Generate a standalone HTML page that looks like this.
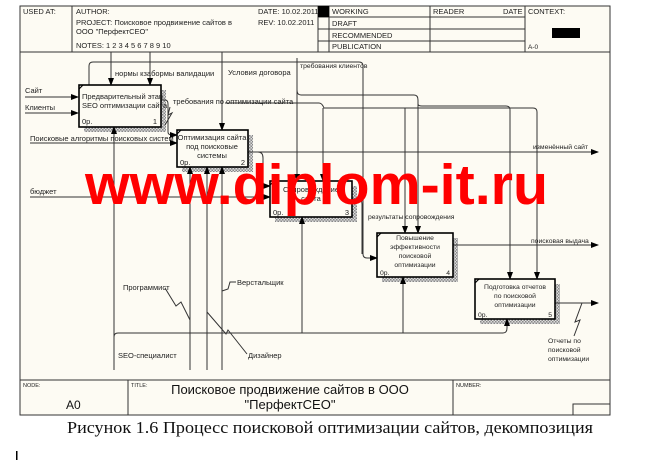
<!DOCTYPE html>
<html><head><meta charset="utf-8"><style>
html,body{margin:0;padding:0;background:#fff;}
svg{display:block;font-family:"Liberation Sans","Noto Sans CJK SC",sans-serif;}
</style></head><body>
<svg width="648" height="460" viewBox="0 0 648 460" xmlns="http://www.w3.org/2000/svg">
<defs>
<pattern id="h" width="3" height="3" patternUnits="userSpaceOnUse"><rect width="3" height="3" fill="#ddd"/><rect width="1.5" height="1.5" fill="#888"/><rect x="1.5" y="1.5" width="1.5" height="1.5" fill="#888"/></pattern>
<marker id="a" markerWidth="8" markerHeight="6" refX="7" refY="3" orient="auto" markerUnits="userSpaceOnUse"><path d="M0,0 L8,3 L0,6 z" fill="#000"/></marker>
</defs>
<rect x="20" y="6" width="590" height="409" fill="#fdfbf3"/>
<!-- header -->
<g stroke="#333" stroke-width="1" fill="none">
<rect x="20" y="6" width="590" height="409"/>
<line x1="20" y1="52" x2="610" y2="52"/>
<line x1="72" y1="6" x2="72" y2="52"/>
<line x1="318" y1="6" x2="318" y2="52"/>
<line x1="329" y1="6" x2="329" y2="52"/>
<line x1="430" y1="6" x2="430" y2="52"/>
<line x1="525" y1="6" x2="525" y2="52"/>
<line x1="318" y1="17" x2="525" y2="17"/>
<line x1="318" y1="29" x2="525" y2="29"/>
<line x1="318" y1="41" x2="525" y2="41"/>
<line x1="20" y1="380" x2="610" y2="380"/>
<line x1="128" y1="380" x2="128" y2="415"/>
<line x1="453" y1="380" x2="453" y2="415"/>
<rect x="573" y="404" width="37" height="11"/>
</g>
<rect x="318" y="6" width="11" height="11" fill="#000"/>
<rect x="552" y="28" width="28" height="10" fill="#000"/>
<g font-size="7.5" fill="#222">
<text x="23" y="14">USED AT:</text>
<text x="76" y="14">AUTHOR:</text>
<text x="76" y="25">PROJECT:  Поисковое продвижение сайтов в</text>
<text x="76" y="34">ООО "ПерфектСЕО"</text>
<text x="76" y="48">NOTES:  1  2  3  4  5  6  7  8  9  10</text>
<text x="258" y="14">DATE:  10.02.2011</text>
<text x="258" y="25">REV:   10.02.2011</text>
<text x="332" y="14">WORKING</text>
<text x="332" y="26">DRAFT</text>
<text x="332" y="38">RECOMMENDED</text>
<text x="332" y="49">PUBLICATION</text>
<text x="433" y="14">READER</text>
<text x="503" y="14">DATE</text>
<text x="528" y="14">CONTEXT:</text>
<text x="528" y="49" font-size="6.5">A-0</text>
<text x="23" y="387" font-size="5.5">NODE:</text>
<text x="131" y="387" font-size="5.5">TITLE:</text>
<text x="456" y="387" font-size="5.5">NUMBER:</text>
</g>
<text x="66" y="409" font-size="12" fill="#111">A0</text>
<text x="290" y="394" font-size="13" text-anchor="middle" fill="#111">Поисковое  продвижение  сайтов в  ООО</text>
<text x="290" y="409" font-size="13" text-anchor="middle" fill="#111">"ПерфектСЕО"</text>

<!-- shadows -->
<rect x="84" y="90" width="82" height="42" fill="url(#h)"/>
<rect x="182" y="135" width="71" height="37" fill="url(#h)"/>
<rect x="275" y="186" width="82" height="36" fill="url(#h)"/>
<rect x="382" y="238" width="76" height="44" fill="url(#h)"/>
<rect x="480" y="284" width="80" height="40" fill="url(#h)"/>

<!-- connectors -->
<g stroke="#333" stroke-width="1" fill="none">
<line x1="25" y1="97" x2="78" y2="97" marker-end="url(#a)"/>
<line x1="25" y1="113" x2="78" y2="113" marker-end="url(#a)"/>
<line x1="30" y1="143" x2="177" y2="143" marker-end="url(#a)"/>
<line x1="30" y1="197" x2="270" y2="197" marker-end="url(#a)"/>
<path d="M160,100 H165 Q168,100 168,104 V132 Q168,135 172,135 H177" marker-end="url(#a)"/>
<path d="M89,85 V66 Q89,62 93,62 H359 Q363,62 363,66 V254 Q363,258 367,258 H377" marker-end="url(#a)"/>
<line x1="111" y1="52" x2="111" y2="85" marker-end="url(#a)"/>
<line x1="150" y1="52" x2="150" y2="85" marker-end="url(#a)"/>
<line x1="222" y1="52" x2="222" y2="130" marker-end="url(#a)"/>
<line x1="297" y1="58" x2="297" y2="181" marker-end="url(#a)"/>
<path d="M297,90 Q297,95 301,95 H414 Q418,95 418,100 V233" marker-end="url(#a)"/>
<path d="M418,104 Q418,106 422,106 H506 Q510,106 510,110 V279" marker-end="url(#a)"/>
<path d="M225,103 H319 Q322,103 324,108 H533 Q537,108 537,112 V279" marker-end="url(#a)"/>
<line x1="323" y1="108" x2="323" y2="181" marker-end="url(#a)"/>
<line x1="405" y1="108" x2="405" y2="233" marker-end="url(#a)"/>
<line x1="248" y1="152" x2="598" y2="152" marker-end="url(#a)"/>
<path d="M258,152 Q263,152 263,158 V182 Q263,186 266,186 H270" marker-end="url(#a)"/>
<path d="M352,199 H358 Q362,199 362,204 V254"/>
<line x1="453" y1="245" x2="598" y2="245" marker-end="url(#a)"/>
<line x1="555" y1="303" x2="598" y2="303" marker-end="url(#a)"/>
<path d="M582,303 L575,322 L580,320 L574,336"/>
<line x1="114" y1="370" x2="114" y2="127" marker-end="url(#a)"/>
<path d="M114,337 Q114,333 118,333 H503 Q507,333 507,328 V319" marker-end="url(#a)"/>
<line x1="302" y1="333" x2="302" y2="217" marker-end="url(#a)"/>
<line x1="403" y1="333" x2="403" y2="277" marker-end="url(#a)"/>
<line x1="190" y1="370" x2="190" y2="167" marker-end="url(#a)"/>
<line x1="207" y1="370" x2="207" y2="167" marker-end="url(#a)"/>
<line x1="222" y1="370" x2="222" y2="167" marker-end="url(#a)"/>
<path d="M165,288 L176,306 L181,302 L190,320"/>
<path d="M207,312 L226,334 L228,330 L247,354"/>
<path d="M236,282 L230,282 L228,289 L222,291"/>
<path d="M170,107 L168,115 L172,113 L165,125"/>
</g>

<!-- boxes -->
<g stroke="#000" stroke-width="1.6" fill="#fdfbf3">
<rect x="79" y="85" width="82" height="42"/>
<rect x="177" y="130" width="71" height="37"/>
<rect x="270" y="181" width="82" height="36"/>
<rect x="377" y="233" width="76" height="44"/>
<rect x="475" y="279" width="80" height="40"/>
</g>
<g stroke="#000" stroke-width="1.2">
<line x1="79" y1="89" x2="83" y2="85"/><line x1="177" y1="134" x2="181" y2="130"/>
<line x1="270" y1="185" x2="274" y2="181"/><line x1="377" y1="237" x2="381" y2="233"/><line x1="475" y1="283" x2="479" y2="279"/>
</g>
<g font-size="7.5" fill="#222">
<text x="82" y="99">Предварительный этап</text>
<text x="82" y="108">SEO оптимизации сайта</text>
<text x="82" y="124">0р.</text><text x="157" y="124" text-anchor="end">1</text>
<text x="212" y="140" text-anchor="middle">Оптимизация сайта</text>
<text x="212" y="149" text-anchor="middle">под поисковые</text>
<text x="212" y="158" text-anchor="middle">системы</text>
<text x="180" y="165">0р.</text><text x="245" y="165" text-anchor="end">2</text>
<text x="311" y="192" text-anchor="middle">Сопровождение</text>
<text x="311" y="201" text-anchor="middle">сайта</text>
<text x="273" y="215">0р.</text><text x="349" y="215" text-anchor="end">3</text>
<g font-size="6.8">
<text x="415" y="240" text-anchor="middle">Повышение</text>
<text x="415" y="249" text-anchor="middle">эффективности</text>
<text x="415" y="258" text-anchor="middle">поисковой</text>
<text x="415" y="267" text-anchor="middle">оптимизации</text>
<text x="380" y="275">0р.</text><text x="450" y="275" text-anchor="end">4</text>
<text x="515" y="289" text-anchor="middle">Подготовка отчетов</text>
<text x="515" y="298" text-anchor="middle">по поисковой</text>
<text x="515" y="307" text-anchor="middle">оптимизации</text>
<text x="478" y="317">0р.</text><text x="552" y="317" text-anchor="end">5</text>
</g>
<text x="25" y="93">Сайт</text>
<text x="25" y="110">Клиенты</text>
<text x="30" y="141">Поисковые алгоритмы поисковых систем</text>
<text x="30" y="194">бюджет</text>
<text x="115" y="76">нормы кзабормы валидации</text>
<text x="228" y="75">Условия договора</text>
<text x="300" y="68" font-size="6.8">требования клиентов</text>
<text x="173" y="104">требования по оптимизации сайта</text>
<text x="533" y="149" font-size="6.8">изменённый сайт</text>
<text x="368" y="219" font-size="6.8">результаты сопровождения</text>
<text x="531" y="243" font-size="6.8">поисковая выдача</text>
<text x="548" y="343" font-size="6.8">Отчеты по</text>
<text x="548" y="352" font-size="6.8">поисковой</text>
<text x="548" y="361" font-size="6.8">оптимизации</text>
<text x="123" y="290">Программист</text>
<text x="237" y="285">Верстальщик</text>
<text x="248" y="358">Дизайнер</text>
<text x="118" y="358">SEO-специалист</text>
</g>
<text x="85" y="204" font-size="57" font-weight="bold" fill="#f00" textLength="463" lengthAdjust="spacingAndGlyphs">www.diplom-it.ru</text>
<text x="67" y="433" font-family="'Liberation Serif',serif" font-size="16.5" fill="#111" textLength="526" lengthAdjust="spacingAndGlyphs">Рисунок 1.6 Процесс поисковой оптимизации сайтов, декомпозиция</text>
<rect x="16" y="451" width="1.5" height="9" fill="#000"/>
</svg>
</body></html>
